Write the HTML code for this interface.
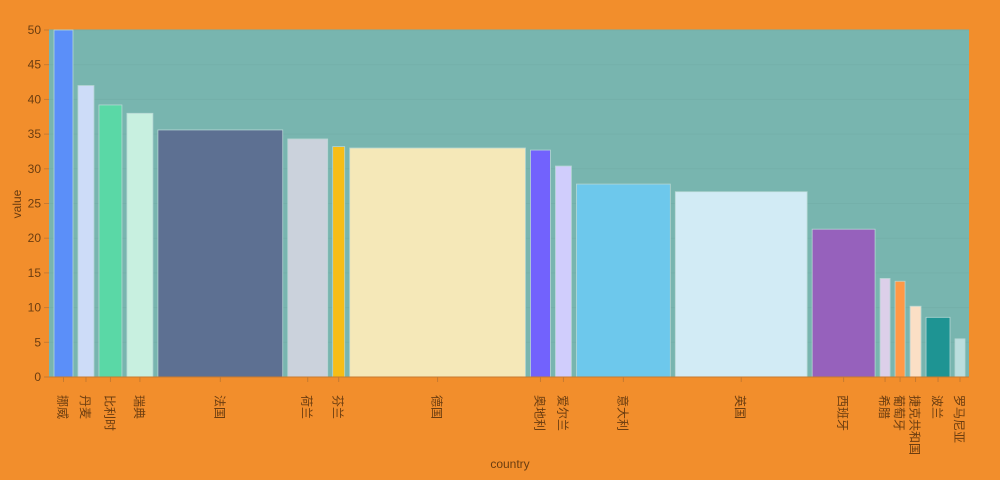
<!DOCTYPE html>
<html><head><meta charset="utf-8">
<style>
body{margin:0;background:#f28e2c;font-family:"Liberation Sans","Noto Sans CJK SC",sans-serif;}
svg{display:block}
</style></head>
<body>
<svg id="chart" width="1000" height="480" xmlns="http://www.w3.org/2000/svg">
<rect x="0" y="0" width="1000" height="480" fill="#f28e2c"/>
<rect x="49" y="30" width="920" height="347" fill="#78b5af"/>
<g id="grid"></g><g id="bars"></g><g id="xaxis"></g><g id="yaxis"></g>
<text transform="translate(21,204) rotate(-90)" text-anchor="middle" font-size="12" fill="#6b3d10">value</text>
<text x="510" y="468" text-anchor="middle" font-size="12" fill="#6b3d10">country</text>
</svg>
<script>
const categories=["挪威","丹麦","比利时","瑞典","法国","荷兰","芬兰","德国","奥地利","爱尔兰","意大利","英国","西班牙","希腊","葡萄牙","捷克共和国","波兰","罗马尼亚"];
const values=[50,42,39.2,38,35.6,34.3,33.2,33,32.7,30.4,27.8,26.7,21.3,14.2,13.8,10.2,8.6,5.5];
const weights=[19,16,23,26,125,40,12,176,20,16,94,132,63,10,10,11,24,10];
const colors=["#5b8ff9","#cddcf8","#5ad8a6","#c8f0e0","#5d7092","#cbd2dc","#f6bd16","#f5e8b8","#7262fd","#d0cdfc","#6dc8ec","#d2ebf5","#9661bc","#dccfe9","#ff9845","#fbdfc5","#1e9493","#bbdede"];
const yTicks=[0,5,10,15,20,25,30,35,40,45,50];
const NS="http://www.w3.org/2000/svg";
const X0=49,X1=969,Y0=377,Y1=30,GAP=5,PADL=5,PADR=4;
const y=v=>Y0-(v/50)*(Y0-Y1);
const total=weights.reduce((a,b)=>a+b,0);
const scaleW=(X1-X0-PADL-PADR-GAP*(weights.length-1))/total;
function mk(t,a){const e=document.createElementNS(NS,t);for(const k in a)e.setAttribute(k,a[k]);return e;}
const grid=document.getElementById('grid'),bars=document.getElementById('bars'),xa=document.getElementById('xaxis'),ya=document.getElementById('yaxis');
yTicks.forEach(t=>{
 const g=mk('line',{x1:X0,x2:X1,y1:y(t),y2:y(t),stroke:'#74b0aa','stroke-width':1});
 
 
 grid.appendChild(g);
 const tk=mk('line',{x1:X0-5,x2:X0,y1:y(t),y2:y(t),stroke:'#c77a30'});
 
 
 ya.appendChild(tk);
 const lb=mk('text',{x:X0-8,y:y(t)+4,'text-anchor':'end','font-size':12,fill:'#6b3d10'});
 lb.textContent=t;
 
 
 ya.appendChild(lb);
});
let cx=X0+PADL;
categories.forEach((c,i)=>{
 const w=weights[i]*scaleW;
 const r=mk('rect',{x:cx,y:y(values[i]),width:w,height:Y0-y(values[i]),fill:colors[i],stroke:'#b5d6d3','stroke-width':0.8});
 
 
 bars.appendChild(r);
 const m=cx+w/2;
 const tk=mk('line',{x1:m,x2:m,y1:Y0,y2:Y0+5,stroke:'#c77a30'});
 
 
 xa.appendChild(tk);
 const lb=mk('text',{transform:`translate(${m-5},395) rotate(90)`,'font-size':12,fill:'#6b3d10'});
 lb.textContent=c;
 
 
 xa.appendChild(lb);
 cx+=w+GAP;
});
const ax=mk('line',{x1:X0,x2:X1,y1:Y0,y2:Y0,stroke:'#c77a30'});


xa.appendChild(ax);
</script>
</body></html>
